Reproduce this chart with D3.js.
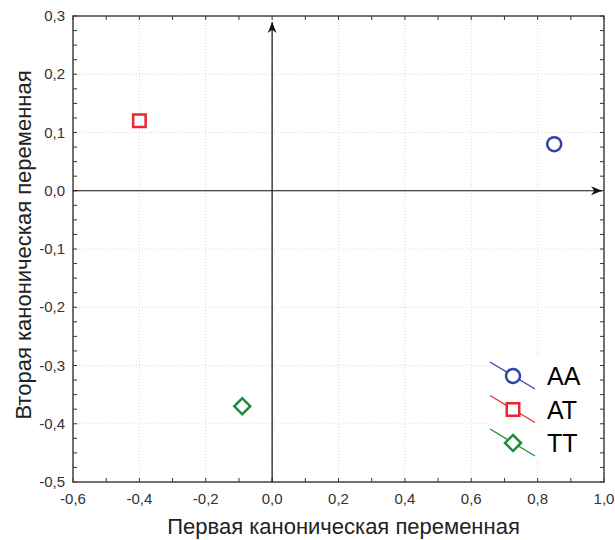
<!DOCTYPE html>
<html>
<head>
<meta charset="utf-8">
<script src="https://cdn.jsdelivr.net/npm/d3@7"></script>
<style>
  body { margin: 0; background: #fff; }
  text { font-family: Arial, "Liberation Sans", sans-serif; }
</style>
</head>
<body>
<script>
// data
const groups = ["AA", "AT", "TT"];
const xValues = [0.85, -0.40, -0.09];
const yValues = [0.08, 0.12, -0.37];
const colors = ["#2f45a8", "#e8282c", "#1e8c3c"];
const xTicks = [-0.6, -0.4, -0.2, 0.0, 0.2, 0.4, 0.6, 0.8, 1.0];
const yTicks = [-0.5, -0.4, -0.3, -0.2, -0.1, 0.0, 0.1, 0.2, 0.3];

const canvWidth = 615, canvHeight = 540;
const svg = d3.select("body").append("svg")
    .attr("width", canvWidth)
    .attr("height", canvHeight);

const margin = {top: 16, right: 11, bottom: 58, left: 73};
const width = canvWidth - margin.left - margin.right;
const height = canvHeight - margin.top - margin.bottom;

const g = svg.append("g")
    .attr("transform", "translate(" + margin.left + "," + margin.top + ")");

const xScale = d3.scaleLinear().domain([-0.6, 1.0]).range([0, width]);
const yScale = d3.scaleLinear().domain([-0.5, 0.3]).range([height, 0]);
const fmt = d => d3.format(".1f")(d).replace(".", ",").replace("−", "-");

// marker shapes: circle, square, square turned 45 deg
const shapes = [
    {type: d3.symbolCircle, size: 154, rot: 0},
    {type: d3.symbolSquare, size: 156, rot: 0},
    {type: d3.symbolSquare, size: 128, rot: 45}
];

// grid
g.selectAll(".gx").data(xTicks).enter().append("line")
    .attr("x1", d => xScale(d)).attr("x2", d => xScale(d))
    .attr("y1", 0).attr("y2", height)
    .attr("stroke", "#d8d8d8").attr("stroke-dasharray", "1,2");
g.selectAll(".gy").data(yTicks).enter().append("line")
    .attr("y1", d => yScale(d)).attr("y2", d => yScale(d))
    .attr("x1", 0).attr("x2", width)
    .attr("stroke", "#d8d8d8").attr("stroke-dasharray", "1,2");

// minor ticks inside frame
const xMinor = d3.range(-6, 11).map(i => i / 10);
const yMinor = d3.range(-20, 13).map(i => i / 40);
const tickLen = 4;
g.selectAll(".tb").data(xMinor).enter().append("line")
    .attr("x1", d => xScale(d)).attr("x2", d => xScale(d))
    .attr("y1", height).attr("y2", height - tickLen)
    .attr("stroke", "#333");
g.selectAll(".tt").data(xMinor).enter().append("line")
    .attr("x1", d => xScale(d)).attr("x2", d => xScale(d))
    .attr("y1", 0).attr("y2", tickLen)
    .attr("stroke", "#333");
g.selectAll(".tl").data(yMinor).enter().append("line")
    .attr("y1", d => yScale(d)).attr("y2", d => yScale(d))
    .attr("x1", 0).attr("x2", tickLen)
    .attr("stroke", "#333");
g.selectAll(".tr").data(yMinor).enter().append("line")
    .attr("y1", d => yScale(d)).attr("y2", d => yScale(d))
    .attr("x1", width).attr("x2", width - tickLen)
    .attr("stroke", "#333");

// frame
g.append("rect")
    .attr("width", width).attr("height", height)
    .attr("fill", "none").attr("stroke", "#444").attr("stroke-width", 1.5);

// tick labels
g.selectAll(".lx").data(xTicks).enter().append("text")
    .attr("x", d => xScale(d)).attr("y", height + 22)
    .attr("text-anchor", "middle")
    .attr("font-size", "15px").attr("fill", "#333")
    .text(fmt);
g.selectAll(".ly").data(yTicks).enter().append("text")
    .attr("x", -8).attr("y", d => yScale(d) + 5)
    .attr("text-anchor", "end")
    .attr("font-size", "15px").attr("fill", "#333")
    .text(fmt);

// zero axes with arrows
const defs = svg.append("defs");
defs.append("marker")
    .attr("id", "arrow")
    .attr("viewBox", "0 0 10 10")
    .attr("refX", 10).attr("refY", 5)
    .attr("markerWidth", 11).attr("markerHeight", 11)
    .attr("markerUnits", "userSpaceOnUse")
    .attr("orient", "auto")
    .append("path").attr("d", "M0,1 L10,5 L0,9 L3,5 Z").attr("fill", "#111");

g.append("line")
    .attr("x1", 0).attr("x2", width - 2)
    .attr("y1", yScale(0)).attr("y2", yScale(0))
    .attr("stroke", "#111").attr("stroke-width", 1.2)
    .attr("marker-end", "url(#arrow)");
g.append("line")
    .attr("x1", xScale(0)).attr("x2", xScale(0))
    .attr("y1", height).attr("y2", 6)
    .attr("stroke", "#111").attr("stroke-width", 1.2)
    .attr("marker-end", "url(#arrow)");

// points
g.selectAll(".pt").data(groups).enter().append("path")
    .attr("transform", (d, i) => "translate(" + xScale(xValues[i]) + "," + yScale(yValues[i]) + ") rotate(" + shapes[i].rot + ")")
    .attr("d", (d, i) => d3.symbol().type(shapes[i].type).size(shapes[i].size)())
    .attr("fill", "none")
    .attr("stroke", (d, i) => colors[i])
    .attr("stroke-width", 2.5);

// legend
const legend = svg.append("g").attr("transform", "translate(490,362)");
legend.append("rect")
    .attr("x", -2).attr("y", -4).attr("width", 112).attr("height", 102)
    .attr("fill", "#fff");
groups.forEach((name, i) => {
    const row = legend.append("g").attr("transform", "translate(0," + i * 33.5 + ")");
    row.append("line")
        .attr("x1", 0).attr("y1", 0).attr("x2", 45).attr("y2", 27)
        .attr("stroke", colors[i]).attr("stroke-width", 1.2);
    row.append("path")
        .attr("transform", "translate(23,14) rotate(" + shapes[i].rot + ")")
        .attr("d", d3.symbol().type(shapes[i].type).size(shapes[i].size)())
        .attr("fill", "#fff")
        .attr("stroke", colors[i])
        .attr("stroke-width", 2.5);
    row.append("text")
        .attr("x", 57).attr("y", 23)
        .attr("font-size", "25px").attr("fill", "#000")
        .text(name);
});

// axis titles
svg.append("text")
    .attr("x", margin.left + width / 2 + 5).attr("y", 534)
    .attr("text-anchor", "middle")
    .attr("font-size", "22px").attr("fill", "#222")
    .text("Первая каноническая переменная");
svg.append("text")
    .attr("transform", "translate(31,245) rotate(-90)")
    .attr("text-anchor", "middle")
    .attr("font-size", "22px").attr("fill", "#222")
    .text("Вторая каноническая переменная");
</script>
</body>
</html>
